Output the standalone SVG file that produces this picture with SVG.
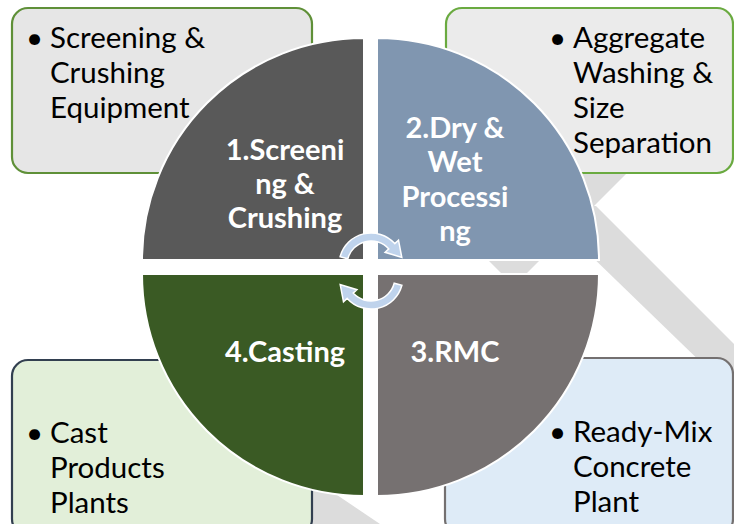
<svg xmlns="http://www.w3.org/2000/svg" width="734" height="524" viewBox="0 0 734 524">
  <style>
    .bg { fill: #dcdcdc; }
    .box { stroke-width: 2.2; }
    .btxt { font-family: Lato, "Liberation Sans", sans-serif; font-size: 29.5px; fill: #000; }
    .qtxt { font-family: Lato, "Liberation Sans", sans-serif; font-size: 29px; font-weight: bold; fill: #fff; text-anchor: middle; }
    .quad { stroke: #fff; stroke-width: 2; }
    .arrow { fill: #bfd3ec; stroke: #fff; stroke-width: 1.5; }
  </style>
  <rect width="734" height="524" fill="#fff"/>
  <g id="background">
    <polygon class="bg" points="514,286 432,204 432,160 640,160"/>
    <polygon class="bg" points="596,206 790,400 740,400 585,250 585,206"/>
    <polygon class="bg" points="296,467 340,497 380,524 392,532 296,532"/>
  </g>
  <g id="box1">
    <rect class="box" x="12" y="8" width="300" height="165" rx="16" fill="#e6e6e6" stroke="#5f9038"/>
    <text class="btxt"><tspan x="26" y="48">•</tspan><tspan x="50" y="48">Screening &amp;</tspan><tspan x="50" y="83">Crushing</tspan><tspan x="50" y="118">Equipment</tspan></text>
  </g>
  <g id="box2">
    <rect class="box" x="446" y="8" width="287" height="165" rx="16" fill="#ebebeb" stroke="#6aaa40"/>
    <text class="btxt"><tspan x="549" y="48">•</tspan><tspan x="573" y="48">Aggregate</tspan><tspan x="573" y="83">Washing &amp;</tspan><tspan x="573" y="118">Size</tspan><tspan x="573" y="153">Separation</tspan></text>
  </g>
  <g id="box4">
    <rect class="box" x="12" y="360" width="300" height="175" rx="16" fill="#e2efd9" stroke="#323f50"/>
    <text class="btxt"><tspan x="26" y="443">•</tspan><tspan x="50" y="443">Cast</tspan><tspan x="50" y="478">Products</tspan><tspan x="50" y="513">Plants</tspan></text>
  </g>
  <g id="box3">
    <rect class="box" x="445" y="358" width="288" height="177" rx="16" fill="#deebf7" stroke="#747070"/>
    <text class="btxt"><tspan x="549" y="442">•</tspan><tspan x="573" y="442">Ready-Mix</tspan><tspan x="573" y="477">Concrete</tspan><tspan x="573" y="512">Plant</tspan></text>
  </g>
  <g id="q1">
    <path class="quad" d="M364 260 L142 260 A222 222 0 0 1 364 38 Z" fill="#595959"/>
    <text class="qtxt"><tspan x="285" y="160">1.Screeni</tspan><tspan x="285" y="194">ng &amp;</tspan><tspan x="285" y="228">Crushing</tspan></text>
  </g>
  <g id="q2">
    <path class="quad" d="M377 260 L377 38 A222 222 0 0 1 599 260 Z" fill="#8096b0"/>
    <text class="qtxt"><tspan x="455" y="138">2.Dry &amp;</tspan><tspan x="455" y="172">Wet</tspan><tspan x="455" y="207">Processi</tspan><tspan x="455" y="241">ng</tspan></text>
  </g>
  <g id="q4">
    <path class="quad" d="M364 274 L364 496 A222 222 0 0 1 142 274 Z" fill="#3a5a24"/>
    <text class="qtxt"><tspan x="285" y="362">4.Casting</tspan></text>
  </g>
  <g id="q3">
    <path class="quad" d="M377 274 L599 274 A222 222 0 0 1 377 496 Z" fill="#767171"/>
    <text class="qtxt"><tspan x="455" y="362">3.RMC</tspan></text>
  </g>
  <g id="connectors">
    <path id="arrowTop" class="arrow" d="M340.1 256.7 A32 32 0 0 1 394.8 243.6 L398.5 240.2 L401.8 257.4 L385.1 252.3 L388.8 248.9 A24 24 0 0 0 347.8 258.8 Z"/>
    <path id="arrowBottom" class="arrow" transform="rotate(180 371 271)" d="M340.1 256.7 A32 32 0 0 1 394.8 243.6 L398.5 240.2 L401.8 257.4 L385.1 252.3 L388.8 248.9 A24 24 0 0 0 347.8 258.8 Z"/>
  </g>
</svg>
